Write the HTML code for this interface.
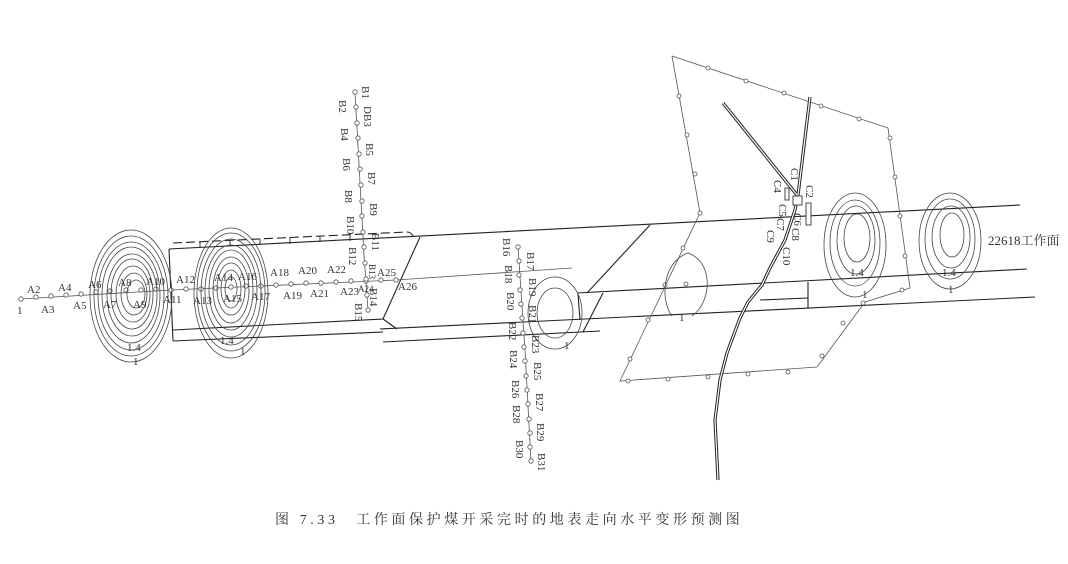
<!DOCTYPE html>
<html><head><meta charset="utf-8"><style>
html,body{margin:0;padding:0;background:#fff;}
svg{display:block;}
text{font-family:"Liberation Serif","Noto Serif CJK SC",serif;fill:#333;}
</style></head><body>
<svg width="1068" height="564" viewBox="0 0 1068 564" xmlns="http://www.w3.org/2000/svg">
<g fill="none" stroke="#222" stroke-width="1.1">
<path d="M173,243 L407,232 Q411,232 413,236" stroke-dasharray="9,4"/>
<g stroke-width="0.9"><line x1="200" y1="242" x2="200" y2="248"/><line x1="230" y1="240" x2="230" y2="246"/><line x1="260" y1="239" x2="260" y2="245"/><line x1="290" y1="237" x2="290" y2="244"/><line x1="320" y1="236" x2="320" y2="242"/><line x1="350" y1="235" x2="350" y2="241"/></g>
<line x1="169" y1="249" x2="1020" y2="205"/>
<line x1="169" y1="249" x2="173" y2="341"/>
<line x1="173" y1="330" x2="383" y2="319"/>
<line x1="383" y1="319" x2="420" y2="237"/>
<line x1="383" y1="319" x2="397" y2="329"/>
<line x1="173" y1="341" x2="383" y2="332"/>
<line x1="383" y1="342" x2="600" y2="331"/>
<line x1="650" y1="225" x2="587" y2="293"/>
<line x1="577" y1="293" x2="1027" y2="269"/>
<line x1="380" y1="329" x2="1035" y2="297"/>
<line x1="578" y1="294" x2="580" y2="320"/>
<line x1="603" y1="293" x2="583" y2="332"/>
<line x1="808" y1="282" x2="808" y2="308"/>
<line x1="808" y1="298" x2="760" y2="300"/>
</g>
<g fill="none" stroke="#555" stroke-width="0.8">
<polyline points="21,299 171,290 396,280 572,268"/>
<polyline points="355,92 364,255 368,310"/>
<polyline points="518,247 525,350 531,462"/>
<polyline points="672,56 888,128 910,288 865,302 817,367 620,381 700,213 672,56"/>
</g>
<g fill="#fff" stroke="#555" stroke-width="0.8">
<circle cx="21" cy="299" r="2.2"/><circle cx="36" cy="297" r="2.2"/><circle cx="51" cy="296" r="2.2"/><circle cx="66" cy="295" r="2.2"/><circle cx="81" cy="294" r="2.2"/><circle cx="96" cy="292" r="2.2"/><circle cx="110" cy="291" r="2.2"/><circle cx="126" cy="290" r="2.2"/><circle cx="141" cy="290" r="2.2"/><circle cx="156" cy="289" r="2.2"/><circle cx="171" cy="290" r="2.2"/><circle cx="186" cy="289" r="2.2"/><circle cx="201" cy="289" r="2.2"/><circle cx="216" cy="288" r="2.2"/><circle cx="231" cy="287" r="2.2"/><circle cx="246" cy="286" r="2.2"/><circle cx="261" cy="286" r="2.2"/><circle cx="276" cy="285" r="2.2"/><circle cx="291" cy="284" r="2.2"/><circle cx="306" cy="283" r="2.2"/><circle cx="321" cy="283" r="2.2"/><circle cx="336" cy="282" r="2.2"/><circle cx="351" cy="281" r="2.2"/><circle cx="366" cy="281" r="2.2"/><circle cx="381" cy="280" r="2.2"/><circle cx="396" cy="280" r="2.2"/>
<circle cx="355" cy="92" r="2.2"/><circle cx="356" cy="107" r="2.2"/><circle cx="357" cy="123" r="2.2"/><circle cx="358" cy="138" r="2.2"/><circle cx="359" cy="154" r="2.2"/><circle cx="360" cy="169" r="2.2"/><circle cx="361" cy="185" r="2.2"/><circle cx="362" cy="201" r="2.2"/><circle cx="362" cy="216" r="2.2"/><circle cx="363" cy="232" r="2.2"/><circle cx="364" cy="247" r="2.2"/><circle cx="365" cy="263" r="2.2"/><circle cx="366" cy="279" r="2.2"/><circle cx="367" cy="295" r="2.2"/><circle cx="368" cy="310" r="2.2"/>
<circle cx="518" cy="247" r="2.2"/><circle cx="519" cy="261" r="2.2"/><circle cx="519" cy="275" r="2.2"/><circle cx="520" cy="290" r="2.2"/><circle cx="521" cy="304" r="2.2"/><circle cx="522" cy="318" r="2.2"/><circle cx="523" cy="333" r="2.2"/><circle cx="524" cy="347" r="2.2"/><circle cx="525" cy="361" r="2.2"/><circle cx="526" cy="376" r="2.2"/><circle cx="527" cy="390" r="2.2"/><circle cx="528" cy="404" r="2.2"/><circle cx="529" cy="419" r="2.2"/><circle cx="530" cy="433" r="2.2"/><circle cx="530" cy="447" r="2.2"/><circle cx="531" cy="461" r="2.2"/>
<circle cx="708" cy="68" r="2"/><circle cx="746" cy="81" r="2"/><circle cx="784" cy="93" r="2"/><circle cx="821" cy="106" r="2"/><circle cx="859" cy="119" r="2"/><circle cx="890" cy="138" r="2"/><circle cx="895" cy="177" r="2"/><circle cx="900" cy="216" r="2"/><circle cx="905" cy="256" r="2"/><circle cx="902" cy="290" r="2"/><circle cx="863" cy="303" r="2"/><circle cx="843" cy="323" r="2"/><circle cx="822" cy="356" r="2"/><circle cx="788" cy="372" r="2"/><circle cx="748" cy="374" r="2"/><circle cx="708" cy="377" r="2"/><circle cx="668" cy="379" r="2"/><circle cx="628" cy="381" r="2"/><circle cx="630" cy="359" r="2"/><circle cx="648" cy="320" r="2"/><circle cx="665" cy="285" r="2"/><circle cx="683" cy="248" r="2"/><circle cx="700" cy="213" r="2"/><circle cx="695" cy="174" r="2"/><circle cx="687" cy="135" r="2"/><circle cx="679" cy="96" r="2"/><circle cx="686" cy="284" r="2"/>
</g>
<g fill="none" stroke="#444" stroke-width="0.8">
<ellipse cx="131" cy="296" rx="41" ry="66"/><ellipse cx="131" cy="296" rx="37" ry="60"/><ellipse cx="131" cy="296" rx="33" ry="54"/><ellipse cx="131" cy="295" rx="29" ry="48"/><ellipse cx="132" cy="295" rx="25" ry="41"/><ellipse cx="132" cy="294" rx="21" ry="35"/><ellipse cx="133" cy="294" rx="17" ry="28"/><ellipse cx="134" cy="294" rx="13" ry="21"/><ellipse cx="136" cy="294" rx="9" ry="14"/>
<ellipse cx="231" cy="293" rx="37" ry="65"/><ellipse cx="231" cy="292" rx="34" ry="59"/><ellipse cx="231" cy="292" rx="30" ry="53"/><ellipse cx="231" cy="291" rx="26" ry="46"/><ellipse cx="231" cy="290" rx="22" ry="40"/><ellipse cx="231" cy="290" rx="18" ry="33"/><ellipse cx="231" cy="289" rx="14" ry="26"/><ellipse cx="231" cy="289" rx="10" ry="19"/><ellipse cx="231" cy="289" rx="6" ry="12"/>
<ellipse cx="855" cy="245" rx="31" ry="52"/><ellipse cx="855" cy="243" rx="25" ry="43"/><ellipse cx="856" cy="240" rx="19" ry="34"/><ellipse cx="857" cy="238" rx="13" ry="24"/>
<ellipse cx="950" cy="241" rx="31" ry="48"/><ellipse cx="950" cy="239" rx="25" ry="40"/><ellipse cx="951" cy="237" rx="19" ry="31"/><ellipse cx="952" cy="235" rx="12" ry="22"/>
<path d="M672,316 C660,300 662,262 688,253 C714,262 712,302 692,316"/>
<ellipse cx="555" cy="313" rx="27" ry="36"/><ellipse cx="555" cy="313" rx="18" ry="25"/>
</g>
<g fill="none" stroke="#222" stroke-width="3.2"><polyline points="810,97 798,195 795,210 785,240 770,268 762,285 748,302 740,318 727,353 720,380 715,420 718,480"/><line x1="723" y1="103" x2="797" y2="195"/></g>
<g fill="none" stroke="#fff" stroke-width="1.2"><polyline points="810,97 798,195 795,210 785,240 770,268 762,285 748,302 740,318 727,353 720,380 715,420 718,480"/><line x1="723" y1="103" x2="797" y2="195"/></g>
<g fill="#fff" stroke="#333" stroke-width="0.9"><rect x="793" y="196" width="9" height="9"/><rect x="785" y="188" width="4" height="12"/><rect x="806" y="203" width="5" height="22"/></g>
<g font-size="11">
<text x="27" y="293">A2</text><text x="58" y="291">A4</text><text x="88" y="288">A6</text><text x="118" y="286">A8</text><text x="146" y="285">A10</text><text x="176" y="283">A12</text><text x="214" y="281">A14</text><text x="238" y="280">A16</text><text x="270" y="276">A18</text><text x="298" y="274">A20</text><text x="327" y="273">A22</text><text x="377" y="276">A25</text><text x="398" y="290">A26</text>
<text x="17" y="314">1</text><text x="41" y="313">A3</text><text x="73" y="309">A5</text><text x="103" y="308">A7</text><text x="133" y="308">A9</text><text x="163" y="303">A11</text><text x="193" y="304">A13</text><text x="223" y="302">A15</text><text x="251" y="300">A17</text><text x="283" y="299">A19</text><text x="310" y="297">A21</text><text x="340" y="295">A23</text><text x="358" y="292" font-size="9">A24</text>
<text x="127" y="351">1.4</text><text x="133" y="365">1</text><text x="220" y="344">1.4</text><text x="240" y="355">1</text>
<text x="850" y="276">1.4</text><text x="862" y="298">1</text><text x="942" y="276">1.4</text><text x="948" y="293">1</text>
<text x="679" y="321">1</text><text x="564" y="349">1</text>
<text x="988" y="245" font-size="13">22618工作面</text>
</g>
<g font-size="11">
<text transform="translate(362,86) rotate(90)">B1</text><text transform="translate(339,100) rotate(90)">B2</text><text transform="translate(364,106) rotate(90)">DB3</text><text transform="translate(341,128) rotate(90)">B4</text><text transform="translate(366,143) rotate(90)">B5</text><text transform="translate(343,158) rotate(90)">B6</text><text transform="translate(368,172) rotate(90)">B7</text><text transform="translate(345,190) rotate(90)">B8</text><text transform="translate(370,203) rotate(90)">B9</text><text transform="translate(347,216) rotate(90)">B10</text><text transform="translate(372,233) rotate(90)">B11</text><text transform="translate(349,247) rotate(90)">B12</text><text transform="translate(369,264) rotate(90)" font-size="9">B13</text><text transform="translate(370,288) rotate(90)">B14</text><text transform="translate(355,303) rotate(90)">B15</text>
<text transform="translate(503,238) rotate(90)">B16</text><text transform="translate(527,252) rotate(90)">B17</text><text transform="translate(505,265) rotate(90)">B18</text><text transform="translate(529,278) rotate(90)">B19</text><text transform="translate(507,292) rotate(90)">B20</text><text transform="translate(529,305) rotate(90)">B21</text><text transform="translate(509,322) rotate(90)">B22</text><text transform="translate(532,335) rotate(90)">B23</text><text transform="translate(510,350) rotate(90)">B24</text><text transform="translate(534,362) rotate(90)">B25</text><text transform="translate(512,380) rotate(90)">B26</text><text transform="translate(536,393) rotate(90)">B27</text><text transform="translate(513,405) rotate(90)">B28</text><text transform="translate(537,423) rotate(90)">B29</text><text transform="translate(516,440) rotate(90)">B30</text><text transform="translate(538,453) rotate(90)">B31</text>
<text transform="translate(791,168) rotate(90)">C1</text><text transform="translate(806,185) rotate(90)">C2</text><text transform="translate(774,180) rotate(90)">C4</text><text transform="translate(779,204) rotate(90)">C5</text><text transform="translate(794,213) rotate(90)">C6</text><text transform="translate(777,218) rotate(90)">C7</text><text transform="translate(792,228) rotate(90)">C8</text><text transform="translate(767,230) rotate(90)">C9</text><text transform="translate(783,247) rotate(90)">C10</text>
</g>
<text x="275" y="524" font-size="14" letter-spacing="3.6">图 7.33　工作面保护煤开采完时的地表走向水平变形预测图</text>
</svg>
</body></html>
